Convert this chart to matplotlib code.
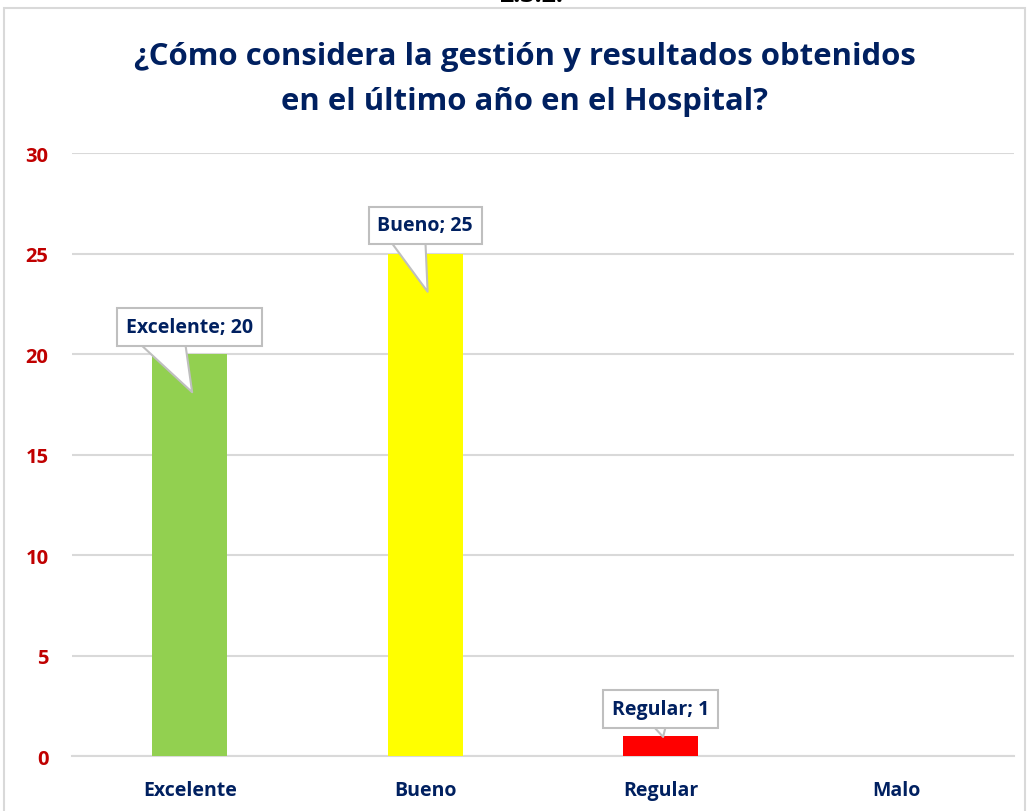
import matplotlib.pyplot as plt
from matplotlib.patches import Rectangle

# data
categorias = ['Excelente', 'Bueno', 'Regular', 'Malo']
valores = [20, 25, 1, 0]
colores = ['#92D050', '#FFFF00', '#FF0000', '#FFFFFF']
yticks = [0, 5, 10, 15, 20, 25, 30]
titulo = ['¿Cómo considera la gestión y resultados obtenidos',
          'en el último año en el Hospital?']

navy = '#002060'
rojo = '#C00000'
grid_c = '#D9D9D9'
plt.rcParams['font.family'] = ['Open Sans', 'DejaVu Sans']

fig = plt.figure(figsize=(10.29, 8.12), dpi=100)
ax = fig.add_axes([0.070, 0.0677, 0.9154, 0.7426])

x = list(range(len(categorias)))
ax.bar(x, valores, width=0.32, color=colores, zorder=3)

ax.set_xlim(-0.5, 3.5)
ax.set_ylim(0, 30)
ax.set_yticks(yticks)
ax.set_xticks(x)
ax.set_xticklabels(categorias)
ax.grid(axis='y', color=grid_c, lw=1.5, zorder=0)
ax.set_axisbelow(True)
for s in ['top', 'right', 'left']:
    ax.spines[s].set_visible(False)
ax.spines['bottom'].set_color(grid_c)
ax.spines['bottom'].set_linewidth(1.5)
ax.tick_params(length=0)
ax.tick_params(axis='y', pad=17, labelcolor=rojo, labelsize=14.5)
ax.tick_params(axis='x', pad=17, labelcolor=navy, labelsize=14)
for lab in ax.get_xticklabels() + ax.get_yticklabels():
    lab.set_fontweight('bold')

# callouts: (index, value, text x, text y, tip y, base position on box, wedge width)
callouts = [
    (0, 20, 0.0, 21.35, 18.1, 0.25, 2.7),
    (1, 25, 1.0, 26.4, 23.1, 0.28, 2.2),
    (2, 1, 2.0, 2.35, 0.95, 0.45, 1.6),
]
for i, v, tx, ty, tipy, rp, tw in callouts:
    ax.annotate(f'{categorias[i]}; {v}', xy=(i + 0.01, tipy),
                xytext=(tx, ty), ha='center', va='center',
                fontsize=14, fontweight='bold', color=navy, zorder=5,
                bbox=dict(boxstyle='square,pad=0.45', fc='white', ec='#BFBFBF', lw=1.5),
                arrowprops=dict(arrowstyle=f'wedge,tail_width={tw},shrink_factor=0.5',
                                fc='white', ec='#BFBFBF', lw=1.5, patchA=None,
                                relpos=(rp, 0.5), shrinkA=0, shrinkB=0))

for k, linea in enumerate(titulo):
    fig.text(0.51, 1 - (65 + 45 * k) / 812, linea, ha='center', va='baseline',
             fontsize=22.4, fontweight='bold', color=navy)

# cut-off heading at top
fig.text(0.516, 1 - 2 / 812, '2.3.2.', ha='center', va='baseline',
         fontsize=18, fontweight='bold', color='black')

# chart border
fig.patches.append(Rectangle((4 / 1029, -0.02), 1021 / 1029, 1.02 - 9 / 812,
                             transform=fig.transFigure, fill=False,
                             ec='#D9D9D9', lw=1.5))

fig.savefig('out.png', dpi=100)
